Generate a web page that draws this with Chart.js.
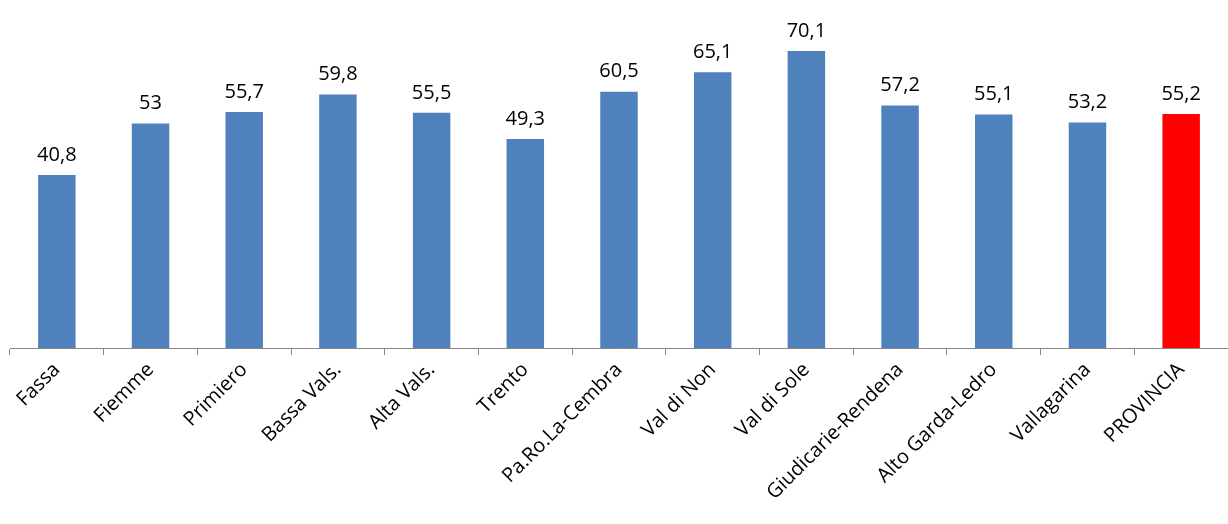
<!DOCTYPE html>
<html><head><meta charset="utf-8">
<script src="https://cdn.jsdelivr.net/npm/chart.js@4/dist/chart.umd.min.js"></script>
<style>html,body{margin:0;background:#fff}#wrap{width:1228px;height:524px}</style>
</head><body><div id="wrap"><canvas id="c"></canvas></div>
<script>
const categories = ['Fassa','Fiemme','Primiero','Bassa Vals.','Alta Vals.','Trento','Pa.Ro.La-Cembra','Val di Non','Val di Sole','Giudicarie-Rendena','Alto Garda-Ledro','Vallagarina','PROVINCIA'];
const values = [40.8,53,55.7,59.8,55.5,49.3,60.5,65.1,70.1,57.2,55.1,53.2,55.2];
const colors = values.map((v, i) => i === values.length - 1 ? '#ff0000' : '#4f81bd');

const labelPlugin = {
  id: 'valueLabels',
  afterDatasetsDraw(chart) {
    const ctx = chart.ctx;
    ctx.save();
    ctx.font = '20px "Open Sans", sans-serif';
    ctx.fillStyle = '#000';
    ctx.textAlign = 'center';
    ctx.textBaseline = 'bottom';
    chart.getDatasetMeta(0).data.forEach((bar, i) => {
      ctx.fillText(String(values[i]).replace('.', ','), bar.x, bar.y - 10);
    });
    ctx.restore();
  }
};

new Chart(document.getElementById('c'), {
  type: 'bar',
  data: { labels: categories, datasets: [{ data: values, backgroundColor: colors, barPercentage: 0.4, categoryPercentage: 1 }] },
  options: {
    responsive: true, maintainAspectRatio: false, animation: false,
    layout: { padding: { left: 10, right: 0, top: 9, bottom: 0 } },
    plugins: { legend: { display: false }, tooltip: { enabled: false } },
    scales: {
      y: { display: false, min: 0, max: 80 },
      x: {
        offset: true,
        afterFit: (s) => { s.height = 176; },
        border: { display: true, color: '#888', width: 1 },
        grid: { offset: true, drawOnChartArea: false, tickLength: 7, color: '#888' },
        ticks: { minRotation: 45, maxRotation: 45, color: '#000', font: { size: 20, family: '"Open Sans", sans-serif' } }
      }
    }
  },
  plugins: [labelPlugin]
});
</script></body></html>
